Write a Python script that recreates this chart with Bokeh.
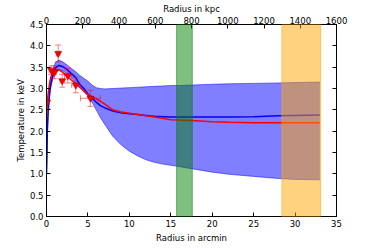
from bokeh.plotting import figure
from bokeh.models import (Range1d, LinearAxis, FixedTicker, Whisker, ColumnDataSource,
                          BoxAnnotation, TeeHead)
from bokeh.embed import file_html
from bokeh.resources import INLINE

# ---- data ----
x_model = [0, 0.1, 0.2, 0.35, 0.5, 0.8, 1.1, 1.5, 2, 2.5, 3, 3.5, 4, 4.5, 5, 5.5, 6, 6.5, 7,
           8, 9, 10, 11, 12, 13, 14, 15, 16, 17.5, 20, 22, 25, 28, 30, 33]
red_model = [2.3, 2.65, 2.88, 3.1, 3.25, 3.4, 3.45, 3.44, 3.37, 3.28, 3.2, 3.12, 3.03, 2.95, 2.86,
             2.81, 2.76, 2.7, 2.64, 2.5, 2.45, 2.42, 2.39, 2.36, 2.33, 2.3, 2.27, 2.26, 2.25,
             2.22, 2.21, 2.2, 2.2, 2.2, 2.2]
blue_median = [1.0, 2.0, 2.5, 2.85, 3.1, 3.35, 3.49, 3.54, 3.51, 3.44, 3.35, 3.26, 3.1, 3.0, 2.87,
               2.77, 2.68, 2.6, 2.55, 2.47, 2.43, 2.41, 2.39, 2.37, 2.35, 2.34, 2.33, 2.33, 2.33,
               2.33, 2.33, 2.34, 2.36, 2.37, 2.38]
band_upper = [1.0, 2.1, 2.6, 2.95, 3.2, 3.47, 3.62, 3.67, 3.62, 3.55, 3.47, 3.4, 3.31, 3.24, 3.17,
              3.08, 3.02, 3.0, 2.99, 3.0, 3.01, 3.02, 3.03, 3.04, 3.05, 3.06, 3.07, 3.07, 3.08,
              3.1, 3.11, 3.12, 3.13, 3.14, 3.15]
band_lower = [1.0, 1.9, 2.4, 2.75, 3.0, 3.25, 3.38, 3.43, 3.41, 3.34, 3.25, 3.14, 3.04, 2.92, 2.82,
              2.68, 2.5, 2.32, 2.17, 1.88, 1.68, 1.53, 1.42, 1.33, 1.27, 1.23, 1.2, 1.17, 1.12,
              1.04, 0.99, 0.94, 0.89, 0.87, 0.86]

obs_x = [0.08, 0.57, 0.97, 1.41, 1.9, 2.57, 3.54, 5.3]
obs_y = [2.68, 3.43, 3.38, 3.82, 3.18, 3.3, 3.08, 2.77]
obs_xerr = [0.08, 0.25, 0.2, 0.2, 0.25, 0.4, 0.5, 1.2]
obs_yerr = [0.15, 0.1, 0.15, 0.2, 0.15, 0.17, 0.18, 0.19]

green_band = [15.7, 17.6]
orange_band = [28.4, 33.1]

x_ticks = [0, 5, 10, 15, 20, 25, 30, 35]
y_ticks = [0, 0.5, 1.0, 1.5, 2.0, 2.5, 3.0, 3.5, 4.0, 4.5]
y_tick_labels = ["0.0", "0.5", "1.0", "1.5", "2.0", "2.5", "3.0", "3.5", "4.0", "4.5"]
kpc_ticks = [0, 200, 400, 600, 800, 1000, 1200, 1400, 1600]

FONT = "DejaVu Sans"
FS = "8.5px"

p = figure(width=360, height=245, x_range=Range1d(0, 35), y_range=Range1d(0, 4.5),
           output_backend="svg", toolbar_location=None,
           min_border_left=46, min_border_right=24, min_border_top=24, min_border_bottom=28)
p.xgrid.visible = False
p.ygrid.visible = False
p.outline_line_color = "black"
p.outline_line_width = 1
p.background_fill_color = "white"
p.border_fill_color = "white"

bottom = p.below[0]
left = p.left[0]
bottom.ticker = FixedTicker(ticks=x_ticks)
bottom.axis_label = "Radius in arcmin"
left.ticker = FixedTicker(ticks=y_ticks)
left.major_label_overrides = {t: l for t, l in zip(y_ticks, y_tick_labels)}
left.axis_label = "Temperature in keV"

p.extra_x_ranges = {"kpc": Range1d(0, 1600)}
top = LinearAxis(x_range_name="kpc", axis_label="Radius in kpc")
top.ticker = FixedTicker(ticks=kpc_ticks)
p.add_layout(top, "above")
right = LinearAxis()
right.ticker = FixedTicker(ticks=y_ticks)
p.add_layout(right, "right")

for ax in [bottom, left, top, right]:
    ax.major_tick_in = 4
    ax.major_tick_out = 0
    ax.minor_tick_line_color = None
    ax.axis_line_color = "black"
    ax.major_tick_line_color = "black"
    ax.major_label_text_font = FONT
    ax.major_label_text_font_size = FS
    ax.major_label_text_color = "black"
    ax.axis_label_text_font = FONT
    ax.axis_label_text_font_size = FS
    ax.axis_label_text_font_style = "normal"
    ax.axis_label_text_color = "black"
    ax.major_label_standoff = 3
    ax.axis_label_standoff = 3
top.major_label_standoff = 1
top.axis_label_standoff = 0
left.axis_label_standoff = 1
right.major_label_text_alpha = 0
right.major_label_text_font_size = "1px"
right.major_label_standoff = 0

# blue uncertainty band
p.varea(x=x_model, y1=band_lower, y2=band_upper, fill_color="blue", fill_alpha=0.5)
p.line(x_model, band_upper, line_color="blue", line_alpha=0.5, line_width=1)
p.line(x_model, band_lower, line_color="blue", line_alpha=0.5, line_width=1)
p.line(x_model, blue_median, line_color="blue", line_width=1.5)
p.line(x_model, red_model, line_color="red", line_width=1.5)

# observed points with error bars
src = ColumnDataSource(dict(
    x=obs_x, y=obs_y,
    ylo=[y - e for y, e in zip(obs_y, obs_yerr)], yhi=[y + e for y, e in zip(obs_y, obs_yerr)],
    xlo=[x - e for x, e in zip(obs_x, obs_xerr)], xhi=[x + e for x, e in zip(obs_x, obs_xerr)]))
wy = Whisker(source=src, base="x", lower="ylo", upper="yhi", dimension="height",
             line_color="red", line_alpha=0.5, line_width=1,
             upper_head=TeeHead(size=6, line_color="red", line_alpha=0.5),
             lower_head=TeeHead(size=6, line_color="red", line_alpha=0.5))
wx = Whisker(source=src, base="y", lower="xlo", upper="xhi", dimension="width",
             line_color="red", line_alpha=0.5, line_width=1,
             upper_head=TeeHead(size=6, line_color="red", line_alpha=0.5),
             lower_head=TeeHead(size=6, line_color="red", line_alpha=0.5))
wy.level = "glyph"
wx.level = "glyph"
p.add_layout(wy)
p.add_layout(wx)
p.scatter("x", "y", source=src, marker="inverted_triangle", size=7, fill_color="red",
          line_color="#600000", line_width=0.5)

# highlighted radial ranges
p.add_layout(BoxAnnotation(left=green_band[0], right=green_band[1], fill_color="green",
                           fill_alpha=0.5, line_color="green", line_alpha=0.5))
p.add_layout(BoxAnnotation(left=orange_band[0], right=orange_band[1], fill_color="orange",
                           fill_alpha=0.5, line_color="orange", line_alpha=0.5))

open("out.html", "w").write(file_html(p, INLINE))
